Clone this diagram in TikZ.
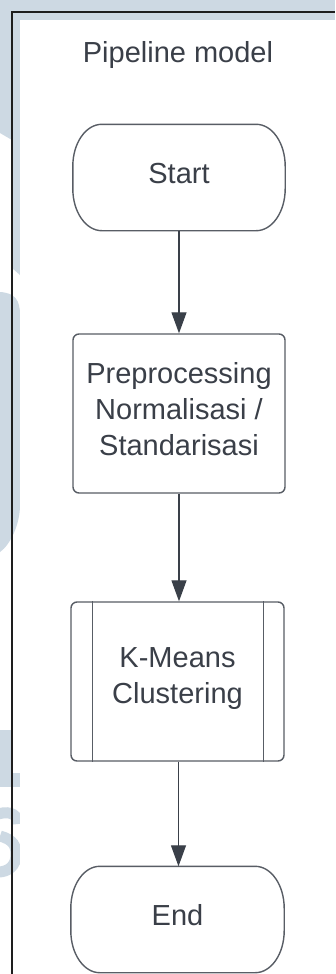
\documentclass[tikz,border=0pt]{standalone}
\usepackage{fontspec}
\setmainfont{Liberation Sans}
\usetikzlibrary{arrows.meta}
\definecolor{bgblue}{RGB}{205,217,227}
\definecolor{ink}{RGB}{58,63,72}
\definecolor{edgec}{RGB}{88,93,101}
\definecolor{arrowc}{RGB}{58,64,73}
\definecolor{framec}{RGB}{30,30,30}
\newcommand\lowstrut[1]{\rule[-#1]{0pt}{#1}}
\newcommand\termoutline[1]{%
  \draw[edgeline] ([xshift=29pt]#1.north west) -- ([xshift=-29pt]#1.north east)
    arc[start angle=90,end angle=0,x radius=29pt,y radius=42pt]
    -- ([yshift=42pt]#1.south east)
    arc[start angle=0,end angle=-90,x radius=29pt,y radius=42pt]
    -- ([xshift=29pt]#1.south west)
    arc[start angle=270,end angle=180,x radius=29pt,y radius=42pt]
    -- ([yshift=-42pt]#1.north west)
    arc[start angle=180,end angle=90,x radius=29pt,y radius=42pt] -- cycle;}
\begin{document}
\begin{tikzpicture}[x=1pt,y=1pt,
  txt/.style={text=ink,font=\fontsize{29pt}{36pt}\selectfont,inner sep=0pt},
  edgeline/.style={draw=edgec,line width=1.4pt},
  term/.style={txt,minimum width=212pt,minimum height=106pt},
  procbox/.style={txt,edgeline,rounded corners=6pt,minimum width=212pt,minimum height=159pt,align=center},
  flowarrow/.style={draw=arrowc,line width=1.2pt,-{Triangle[width=15pt,length=21pt]}},
  wm/.style={fill=bgblue}]
\useasboundingbox (0,0) rectangle (335,-974);
\fill[white] (0,0) rectangle (335,-974);
% watermark remnants in left margin
\begin{scope}
  \clip (0,0) rectangle (20,-974);
  \fill[wm] (0,0) -- (20,0) -- (20,-275) -- (12,-268) -- (12,-140) -- (0,-133) -- cycle;
  \fill[wm] (0,-292) .. controls (15,-293) and (20,-300) .. (20,-315) -- (20,-505)
     .. controls (20,-525) and (10,-545) .. (0,-552) -- cycle;
  \fill[wm] (0,-730) rectangle (12,-787);
  \fill[wm] (0,-773) rectangle (20,-787);
  \draw[bgblue,line width=11pt] (-2,-814) .. controls (12,-810) and (18,-816) .. (18,-824);
  \draw[bgblue,line width=11pt] (0,-836) .. controls (14,-840) and (16,-846) .. (16,-855)
     .. controls (16,-866) and (8,-872) .. (-2,-872);
\end{scope}
\fill[bgblue] (0,0) rectangle (335,-20);
\fill[white] (20,-20) rectangle (335,-974);
\draw[framec,line width=1.3pt] (12,-974) -- (12,-12) -- (335,-12);

\node[txt,anchor=base] (title) at (178,-63) {Pipeline model};

\node[term] (start) at (179,-177.5) {Start\lowstrut{7.5pt}};
\termoutline{start}
\node[procbox] (pre) at (179,-413.5) {Preprocessing\\Normalisasi /\\Standarisasi\lowstrut{9.5pt}};
\node[procbox,minimum width=213pt,text width=170pt] (km) at (177.5,-681.5) {K-Means\\Clustering\lowstrut{12pt}};
\draw[edgeline] ([xshift=22pt]km.north west) -- ([xshift=22pt]km.south west);
\draw[edgeline] ([xshift=-21pt]km.north east) -- ([xshift=-21pt]km.south east);
\node[term,minimum width=213pt] (end) at (177.5,-919.5) {End\lowstrut{9pt}};
\termoutline{end}

\draw[flowarrow] (start.south) -- (pre.north);
\draw[flowarrow] (pre.south) -- (pre.south |- km.north);
\draw[flowarrow] (km.south -| 178.5,0) -- (178.5,0 |- end.north);
\end{tikzpicture}
\end{document}
